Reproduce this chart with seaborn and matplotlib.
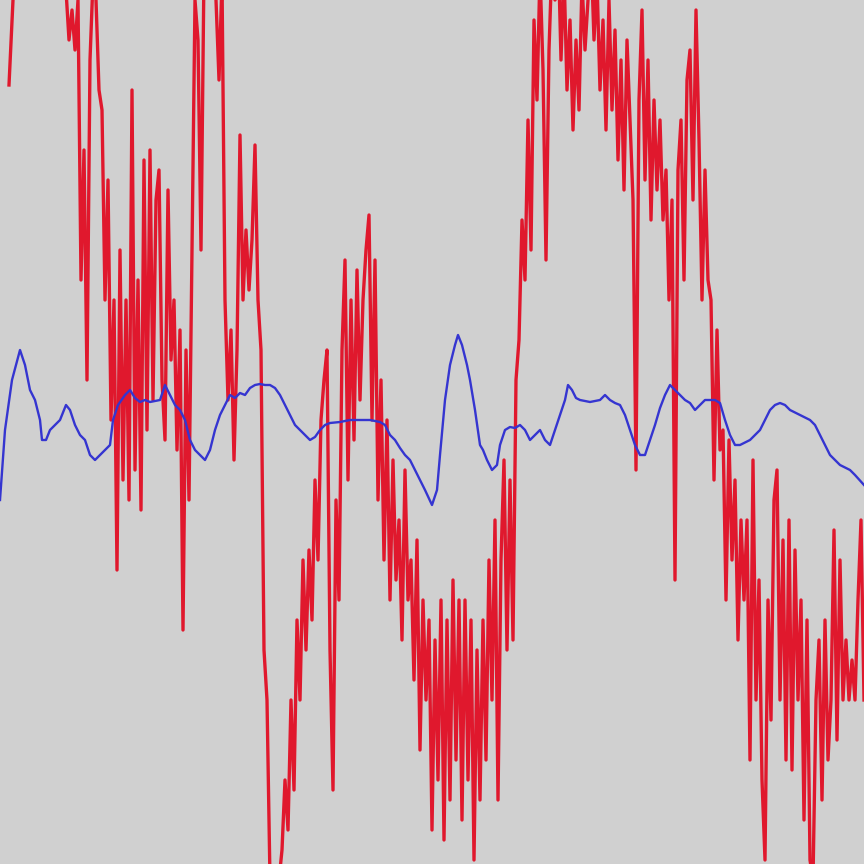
import numpy as np
import pandas as pd
import matplotlib
matplotlib.use("Agg")
import matplotlib.pyplot as plt
import seaborn as sns

# raw signal, sampled every 3 time units from t=9 (depth: larger = lower)
red = [
    85, 20, -40, -80, -100, -90, -110, -80, -100, -70, -90, -60, -80, -50, -70, -40,
    -60, -30, -40, -10, 40, 10, 50, 0, 280, 150, 380, 60, -20, 0, 90, 110,
    300, 180, 420, 300, 570, 250, 480, 300, 500, 90, 470, 280, 510, 160, 430, 150,
    400, 200, 170, 380, 440, 190, 360, 300, 450, 330, 630, 350, 500, 250, 0, 40,
    250, -30, -80, -60, -30, 0, 80, -20, 300, 400, 330, 460, 350, 135, 300, 230,
    290, 240, 145, 300, 350, 650, 700, 880, 880, 870, 880, 850, 780, 830, 700, 790,
    620, 700, 560, 650, 550, 620, 480, 560, 420, 380, 350, 650, 790, 500, 600, 350,
    260, 480, 300, 440, 270, 400, 300, 250, 215, 420, 260, 500, 380, 560, 420, 600,
    460, 580, 520, 640, 470, 600, 560, 680, 540, 750, 600, 700, 620, 830, 640, 780,
    600, 840, 620, 800, 580, 760, 600, 820, 600, 780, 620, 860, 650, 800, 620, 760,
    560, 700, 520, 800, 560, 460, 650, 480, 640, 380, 340, 220, 280, 120, 250, 20,
    100, -30, 70, 260, 50, -40, 0, -60, 60, -30, 90, 20, 130, 40, 110, -20,
    50, 0, -50, 40, -20, 90, 20, 130, 0, 110, 30, 160, 60, 190, 40, 120,
    200, 470, 100, 10, 180, 60, 220, 100, 190, 120, 220, 170, 300, 200, 580, 170,
    120, 280, 80, 50, 200, 10, 140, 300, 170, 280, 300, 480, 330, 450, 430, 600,
    440, 560, 480, 640, 520, 600, 520, 760, 460, 700, 580, 780, 860, 600, 720, 500,
    470, 700, 540, 760, 520, 770, 550, 700, 600, 820, 620, 860, 880, 700, 640, 800,
    620, 760, 700, 530, 740, 560, 700, 640, 700, 660, 700, 600, 520, 700,
]
red_t = 9 + 3 * np.arange(len(red))

# smoothed signal
blue_t = [
    0, 5, 12, 20, 25, 30, 35, 40, 42, 46, 50, 55, 60, 66, 70, 75, 80, 85, 90, 95,
    100, 105, 110, 113, 118, 125, 130, 135, 140, 145, 150, 160, 165, 170, 175, 180,
    185, 190, 195, 200, 205, 210, 215, 220, 225, 230, 235, 240, 245, 250, 255, 260,
    265, 270, 275, 280, 285, 290, 295, 300, 305, 310, 315, 320, 325, 330, 340, 350,
    360, 370, 380, 385, 390, 395, 400, 405, 410, 415, 420, 425, 432, 437, 440, 445,
    450, 455, 458, 462, 467, 470, 475, 480, 483, 487, 492, 497, 500, 505, 510, 515,
    520, 525, 530, 535, 540, 545, 550, 555, 560, 565, 568, 572, 576, 580, 590, 600,
    605, 610, 615, 620, 625, 630, 635, 640, 645, 650, 655, 660, 665, 670, 675, 680,
    685, 690, 695, 700, 705, 715, 720, 725, 730, 735, 740, 750, 755, 760, 765, 770,
    775, 780, 785, 790, 800, 810, 815, 820, 825, 830, 835, 840, 850, 855, 864,
]
blue = [
    500, 430, 380, 350, 365, 390, 400, 420, 440, 440, 430, 425, 420, 405, 410, 425,
    435, 440, 455, 460, 455, 450, 445, 420, 405, 395, 390, 398, 402, 400, 402, 400,
    385, 395, 405, 410, 420, 440, 450, 455, 460, 450, 430, 415, 405, 395, 398, 393,
    395, 388, 385, 384, 385, 385, 388, 395, 405, 415, 425, 430, 435, 440, 437, 430,
    425, 423, 422, 420, 420, 420, 422, 425, 435, 440, 448, 455, 460, 470, 480, 490,
    505, 490, 455, 400, 365, 345, 335, 345, 365, 380, 410, 445, 450, 460, 470, 465,
    445, 430, 427, 428, 425, 430, 440, 435, 430, 440, 445, 430, 415, 400, 385, 390,
    398, 400, 402, 400, 395, 400, 403, 405, 415, 430, 445, 455, 455, 440, 425, 408,
    395, 385, 390, 395, 400, 403, 410, 405, 400, 400, 403, 420, 435, 445, 445, 440,
    435, 430, 420, 410, 405, 403, 405, 410, 415, 420, 425, 435, 445, 455, 460, 465,
    470, 475, 485,
]

df_red = pd.DataFrame({"t": red_t, "depth": red})
df_blue = pd.DataFrame({"t": blue_t, "depth": blue})

bg = "#d0d0d0"
fig = plt.figure(figsize=(8.64, 8.64), dpi=100, facecolor=bg)
ax = fig.add_axes([0, 0, 1, 1])
ax.set_facecolor(bg)

sns.lineplot(data=df_red, x="t", y="depth", color="#e0182d", linewidth=2.4,
             ax=ax, estimator=None, sort=False)
sns.lineplot(data=df_blue, x="t", y="depth", color="#3535d0", linewidth=1.7,
             ax=ax, estimator=None, sort=False)

ax.set_xlim(0, 864)
ax.set_ylim(864, 0)
ax.set_axis_off()

fig.savefig("out.png", dpi=100, facecolor=bg)
plt.close(fig)
